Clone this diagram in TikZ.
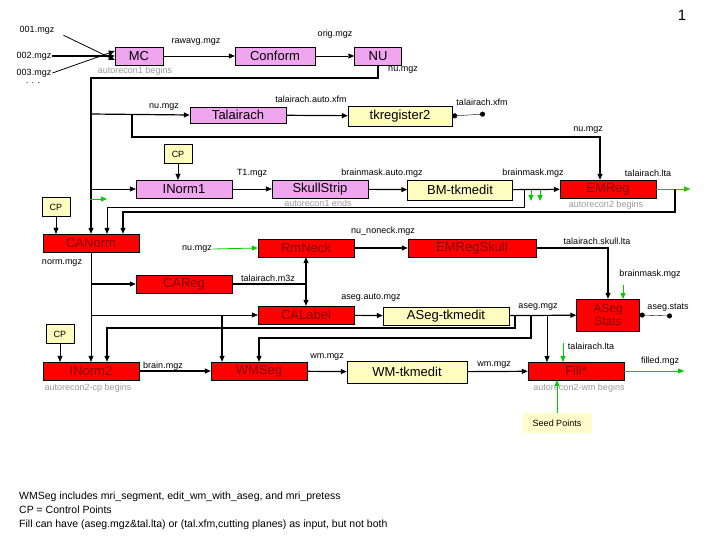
\documentclass[tikz,border=0pt]{standalone}
\usepackage{fontspec}
\setmainfont{Liberation Sans}
\usetikzlibrary{positioning,arrows.meta}

\begin{document}
\begin{tikzpicture}[x=1pt,y=-1pt,
    box/.style={draw, minimum width=96pt, minimum height=18pt, inner sep=0pt, font=\fontsize{13}{14}\selectfont},
    pbox/.style={box, fill=violet!35!magenta!35},
    rbox/.style={box, fill=red, text=red!50!black},
    ybox/.style={box, fill=yellow!25},
    cp/.style={draw, fill=yellow!25, minimum width=28pt, minimum height=19pt, inner sep=0pt, font=\fontsize{9}{10}\selectfont},
    lbl/.style={inner sep=1pt, font=\fontsize{9}{10}\selectfont},
    note/.style={lbl, text=black!40},
    arr/.style={-{Triangle[length=6pt,width=5pt]}},
    tarr/.style={arr, very thick},
    garr/.style={arr, green!80!black, thick},
    dot/.style={{Circle[length=5pt]}-{Circle[length=5pt]}}]
\useasboundingbox (0,0) rectangle (720,540);
% Boxes
\node[pbox, minimum width=48pt] (MC) at (139,56) {MC};
\node[pbox, minimum width=80pt] (Conform) at (275,56) {Conform};
\node[pbox, minimum width=47pt] (NU) at (378,56) {NU};
\node[pbox, minimum height=16pt] (Talairach) at (238,115) {Talairach};
\node[ybox, minimum width=104pt, minimum height=20pt] (tkreg) at (400,116) {tkregister2};
\node[pbox] (INorm1) at (184,189) {INorm1};
\node[pbox] (SkullStrip) at (320,189) {SkullStrip};
\node[ybox, minimum width=105pt, minimum height=20pt] (BMtk) at (460,190) {BM-tkmedit};
\node[rbox] (EMReg) at (608,189) {EMReg};
\node[rbox] (CANorm) at (91,243) {CANorm};
\node[rbox] (RmNeck) at (306,248) {RmNeck};
\node[rbox, minimum width=128pt] (EMRegSkull) at (472,248) {EMRegSkull};
\node[rbox] (CAReg) at (184,284) {CAReg};
\node[rbox] (CALabel) at (306,315) {CALabel};
\node[ybox, minimum width=126pt] (ASegtk) at (446,316) {ASeg-tkmedit};
\node[rbox, minimum width=63pt, minimum height=32pt, align=center, font=\fontsize{12}{13}\selectfont] (ASegStats) at (608,315) {ASeg\\Stats};
\node[rbox] (INorm2) at (91,371) {INorm2};
\node[rbox] (WMSeg) at (259,371) {WMSeg};
\node[ybox, minimum width=120pt, minimum height=22pt] (WMtk) at (407,372) {WM-tkmedit};
\node[rbox] (Fill) at (576,371) {Fill*};
\node[fill=yellow!20, minimum width=69pt, minimum height=20pt, inner sep=0pt, font=\fontsize{9}{10}\selectfont] (Seed) at (557,423) {Seed Points};
\node[cp] (CPa) at (178,154) {CP};
\node[cp] (CPb) at (56,207) {CP};
\node[cp] (CPc) at (60,334) {CP};
% Labels
\node[font=\fontsize{15}{16}\selectfont] (page) at (682,15) {1};
\node[lbl] (f1) at (37,30) {001.mgz};
\node[lbl] (f2) at (34,56) {002.mgz};
\node[lbl] (f3) at (34,73) {003.mgz};
\node[lbl] (dots) at (33,83) {. . .};
\node[lbl] (rawavg) at (196,42) {rawavg.mgz};
\node[lbl] (orig) at (335,34) {orig.mgz};
\node[note] (ar1b) at (135,71) {autorecon1 begins};
\node[lbl] (nu1) at (403,70) {nu.mgz};
\node[lbl] (nu2) at (164,107) {nu.mgz};
\node[lbl] (tautoxfm) at (311,99) {talairach.auto.xfm};
\node[lbl] (txfm) at (482,102) {talairach.xfm};
\node[lbl] (nu3) at (588,130) {nu.mgz};
\node[lbl] (T1) at (252,173) {T1.mgz};
\node[lbl] (bmauto) at (382,173) {brainmask.auto.mgz};
\node[lbl] (bm1) at (533,173) {brainmask.mgz};
\node[lbl] (tlta1) at (648,173) {talairach.lta};
\node[note] (ar1e) at (318,203) {autorecon1 ends};
\node[note] (ar2b) at (606,205) {autorecon2 begins};
\node[lbl] (noneck) at (383,231) {nu\_noneck.mgz};
\node[lbl] (tskull) at (597,241) {talairach.skull.lta};
\node[lbl] (nu4) at (197,249) {nu.mgz};
\node[lbl] (norm) at (62,263) {norm.mgz};
\node[lbl] (m3z) at (268,278) {talairach.m3z};
\node[lbl] (bm2) at (650,274) {brainmask.mgz};
\node[lbl] (asegauto) at (371,298) {aseg.auto.mgz};
\node[lbl] (aseg) at (538,307) {aseg.mgz};
\node[lbl] (asegstats) at (668,308) {aseg.stats};
\node[lbl] (tlta2) at (591,346) {talairach.lta};
\node[lbl] (wm1) at (327,357) {wm.mgz};
\node[lbl] (brain) at (163,366) {brain.mgz};
\node[lbl] (wm2) at (494,365) {wm.mgz};
\node[lbl] (filled) at (660,361) {filled.mgz};
\node[note] (ar2cp) at (88,388) {autorecon2-cp begins};
\node[note] (ar2wm) at (579,388) {autorecon2-wm begins};
\node[lbl, anchor=north west, align=left, font=\fontsize{10.5}{14}\selectfont] (text) at (18,491)
  {WMSeg includes mri\_segment, edit\_wm\_with\_aseg, and mri\_pretess\\CP = Control Points\\Fill can have (aseg.mgz\&tal.lta) or (tal.xfm,cutting planes) as input, but not both};
% Connectors
\draw[arr, thick] ([xshift=8]f1.south east) -- ([yshift=-4]MC.west);
\draw[tarr] (f2.east) -- (MC.west);
\draw[arr, thick] (f3.east) -- ([yshift=5]MC.west);
\draw[arr] (MC) -- (Conform);
\draw[arr] (Conform) -- (NU);
\draw[tarr] (NU.south) -- (378,78) -| (CANorm.north);
\draw[tarr] (90,114) -- (Talairach.west);
\draw[very thick] (132,114) |- (250,137);
\draw[tarr] (250,137) -| ([xshift=-8]EMReg.north);
\draw[tarr] (Talairach) -- (tkreg);
\draw[dot] (tkreg.east) -- (485,114);
\draw[arr] (90,189) -- (INorm1.west);
\draw[garr] (90,199) -- (107,199);
\draw[arr] (CPa.south) -- (CPa.south |- INorm1.north);
\draw[arr] (INorm1) -- (SkullStrip);
\draw[tarr] (SkullStrip) -- (BMtk);
\draw[tarr] (BMtk) -- (EMReg);
\draw[garr] (531,190) -- (531,201);
\draw[garr] (540,190) -- (540,201);
\draw[thick] (524,190) |- (300,207);
\draw[arr, thick] (300,207) -| ([xshift=16]CANorm.north);
\draw[garr] (EMReg.east) -- ++(34,0);
\draw[very thick] (675,189) |- (300,212);
\draw[tarr] (300,212) -| ([xshift=32]CANorm.north);
\draw[arr] (CPb.south) -- (CPb.south |- CANorm.north);
\draw[garr] (nu4.east) -- (RmNeck.west);
\draw[tarr] (RmNeck) -- (EMRegSkull);
\draw[very thick] (EMRegSkull.east) -| (608,280);
\draw[tarr] (608,280) -- (ASegStats.north);
\draw[garr] (623,285) -- (623,299);
\draw[arr] (CANorm.south) -- (INorm2.north);
\draw[tarr] (91,284) -- (CAReg.west);
\draw[arr] (91,315) -- (CALabel.west);
\draw[tarr] (222,315) -- (WMSeg.north -| 222,0);
\draw[very thick] (CAReg.east) -- (305,284);
\draw[{Triangle[length=6pt,width=5pt]}-{Triangle[length=6pt,width=5pt]}, very thick] (RmNeck.south) -- (CALabel.north);
\draw[tarr] (CALabel) -- (ASegtk);
\draw[tarr] (ASegtk) -- (ASegStats);
\draw[very thick] (515,316) |- (300,328);
\draw[tarr] (300,328) -| ([xshift=16]INorm2.north);
\draw[very thick] (531,316) |- (300,338);
\draw[tarr] (300,338) -| (WMSeg.north);
\draw[arr] (547,316) -- (547,362);
\draw[dot] (ASegStats.east) -- (672,316);
\draw[garr] (563,343) -- (563,362);
\draw[arr] (CPc.south) -- (CPc.south |- INorm2.north);
\draw[tarr] (INorm2) -- (WMSeg);
\draw[tarr] (WMSeg) -- (WMtk);
\draw[tarr] (WMtk) -- (Fill);
\draw[garr] (Fill.east) -- ++(60,0);
\draw[garr] (Seed.north) -- (Fill.south -| Seed.north);
\end{tikzpicture}
\end{document}
